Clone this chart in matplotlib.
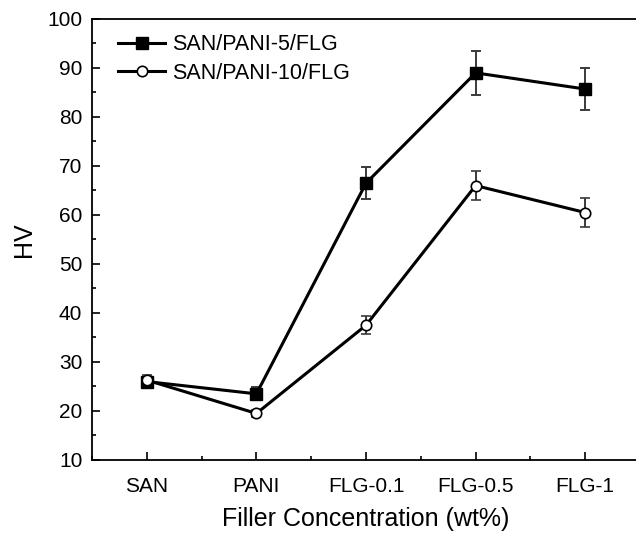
import matplotlib
matplotlib.use("Agg")
import matplotlib.pyplot as plt
from matplotlib.lines import Line2D
from matplotlib.ticker import MultipleLocator

plt.rcParams['font.family'] = ['Liberation Sans', 'DejaVu Sans']

samples = ['SAN', 'PANI', 'FLG-0.1', 'FLG-0.5', 'FLG-1']
hv_pani5 = [26.0, 23.5, 66.5, 89.0, 85.7]
err_pani5 = [1.0, 1.3, 3.3, 4.5, 4.3]
hv_pani10 = [26.3, 19.5, 37.5, 66.0, 60.5]
err_pani10 = [1.0, 0.7, 1.8, 3.0, 3.0]

x = list(range(1, len(samples) + 1))

fig = plt.figure(figsize=(6.36, 5.36), dpi=100)
ax = fig.add_axes([0.1447, 0.1418, 0.8616, 0.8228])

ebar = dict(ecolor='#3a3a3a', elinewidth=1.4, capsize=3.5, capthick=1.4)
ax.errorbar(x, hv_pani5, yerr=err_pani5, color='black', lw=2.2,
            marker='s', ms=8, mfc='black', mec='black', zorder=3, **ebar)
ax.errorbar(x, hv_pani10, yerr=err_pani10, color='black', lw=2.2,
            marker='o', ms=7.5, mfc='white', mec='black', mew=1.2,
            zorder=3, **ebar)

ax.set_xlim(0.5, 5.5)
ax.set_ylim(10, 100)
ax.set_xticks(x)
ax.set_xticklabels(samples)
ax.xaxis.set_minor_locator(MultipleLocator(0.5))
ax.yaxis.set_major_locator(MultipleLocator(10))
ax.yaxis.set_minor_locator(MultipleLocator(5))
ax.tick_params(which='both', direction='in', labelsize=15, width=1.2)
ax.tick_params(which='major', length=6)
ax.tick_params(which='minor', length=3)
ax.tick_params(axis='x', pad=12)
ax.tick_params(axis='y', pad=7)
for side in ['left', 'bottom', 'top']:
    ax.spines[side].set_linewidth(1.3)
ax.spines['right'].set_visible(False)

ax.set_xlabel('Filler Concentration (wt%)', fontsize=18, labelpad=8)
ax.set_ylabel('HV', fontsize=18, labelpad=8)

# legend shows plain line + marker, no error bars
handles = [
    Line2D([], [], color='black', lw=2.2, marker='s', ms=8, mfc='black'),
    Line2D([], [], color='black', lw=2.2, marker='o', ms=7.5, mfc='white',
           mew=1.2),
]
ax.legend(handles, ['SAN/PANI-5/FLG', 'SAN/PANI-10/FLG'], loc='upper left',
          bbox_to_anchor=(0.008, 1.014), frameon=False, fontsize=15.5,
          handlelength=2.2, borderaxespad=0.7, handletextpad=0.3,
          labelspacing=0.35, borderpad=0.3)

fig.savefig('out.png', dpi=100)
